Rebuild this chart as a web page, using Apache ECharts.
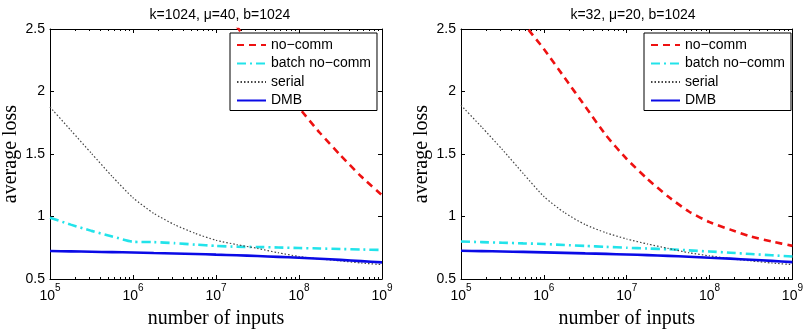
<!DOCTYPE html>
<html>
<head>
<meta charset="utf-8">
<script src="https://cdn.jsdelivr.net/npm/echarts@6/dist/echarts.min.js"></script>
<style>
  html, body { margin: 0; padding: 0; background: #fff; }
  #chart { width: 806px; height: 334px; }
</style>
</head>
<body>
<div id="chart"></div>
<script>
// data (x = number of inputs, quarter-decade samples)
const inputs = [1e5, 1.78e5, 3.16e5, 5.62e5, 1e6, 1.78e6, 3.16e6, 5.62e6, 1e7,
                1.78e7, 3.16e7, 5.62e7, 1e8, 1.78e8, 3.16e8, 5.62e8, 1e9];
const seriesNames = ['no\u2212comm', 'batch no\u2212comm', 'serial', 'DMB'];
const panelTitles = ['k=1024, \u03bc=40, b=1024', 'k=32, \u03bc=20, b=1024'];

// left panel: k=1024, mu=40
const noCommA = [null, null, null, null, null, null, null, 3.0, 2.74,
                 2.52, 2.30, 2.08, 1.87, 1.67, 1.49, 1.32, 1.17];
const batchA  = [0.99, 0.935, 0.885, 0.84, 0.798, 0.795, 0.787, 0.775, 0.765,
                 0.758, 0.756, 0.752, 0.748, 0.744, 0.74, 0.736, 0.732];
const serialA = [1.876, 1.69, 1.505, 1.32, 1.15, 1.025, 0.935, 0.865, 0.81,
                 0.775, 0.745, 0.71, 0.68, 0.66, 0.645, 0.628, 0.615];
const dmbA    = [0.724, 0.721, 0.718, 0.715, 0.712, 0.708, 0.704, 0.70, 0.695,
                 0.69, 0.684, 0.677, 0.67, 0.662, 0.653, 0.643, 0.633];

// right panel: k=32, mu=20
const noCommB = [null, 3.05, 2.80, 2.55, 2.34, 2.11, 1.88, 1.65, 1.46,
                 1.30, 1.16, 1.04, 0.955, 0.895, 0.84, 0.80, 0.765];
const batchB  = [0.80, 0.795, 0.79, 0.785, 0.78, 0.772, 0.765, 0.757, 0.75,
                 0.744, 0.738, 0.729, 0.72, 0.71, 0.70, 0.69, 0.68];
const serialB = [1.89, 1.715, 1.535, 1.345, 1.16, 1.03, 0.935, 0.87, 0.82,
                 0.78, 0.745, 0.71, 0.685, 0.662, 0.645, 0.628, 0.615];
const dmbB    = [0.726, 0.723, 0.72, 0.717, 0.713, 0.709, 0.705, 0.701, 0.696,
                 0.691, 0.685, 0.678, 0.67, 0.663, 0.654, 0.645, 0.635];

const xExponents = [5, 6, 7, 8, 9];

const panels = [
  { title: panelTitles[0], left: 48, legendLeft: 230, values: [noCommA, batchA, serialA, dmbA] },
  { title: panelTitles[1], left: 461, legendLeft: 644, values: [noCommB, batchB, serialB, dmbB] }
];

const SANS = 'Liberation Sans';
const SERIF = 'Liberation Serif';

// minor ticks of the log axis: log10(k * 10^d), k = 2..9
const minorTicks = [];
xExponents.slice(0, -1).forEach(d => {
  for (let k = 2; k <= 9; k++) minorTicks.push(d + Math.log10(k));
});

const lineStyles = [
  { color: '#ee1111', width: 2.6, type: [7, 5] },
  { color: '#22e3ea', width: 2.6, type: [9, 4, 2, 4] },
  { color: '#444444', width: 1.2, type: [1.5, 2] },
  { color: '#0a0ae6', width: 2.6, type: 'solid' }
];

const chart = echarts.init(document.getElementById('chart'), null, { renderer: 'canvas' });

const blackLine = { show: true, lineStyle: { color: '#000', width: 1 } };
const grids = [], xAxes = [], yAxes = [], series = [], titles = [], legends = [];

panels.forEach((p, g) => {
  grids.push({ left: p.left, top: 29, width: 334, height: 257, show: false });
  titles.push({
    text: p.title, left: p.left + 167, top: 3, textAlign: 'center',
    textStyle: { fontFamily: SANS, fontSize: 14, fontWeight: 'normal', color: '#000' }
  });

  const baseX = { gridIndex: g, type: 'value', min: 5, max: 9, interval: 1, splitLine: { show: false } };
  xAxes.push(Object.assign({}, baseX, {
    position: 'bottom', axisLine: blackLine,
    axisTick: { inside: true, length: 4, lineStyle: { color: '#000' } },
    name: 'number of inputs', nameLocation: 'middle', nameGap: 30,
    nameTextStyle: { fontFamily: SERIF, fontSize: 20, color: '#000' },
    axisLabel: {
      margin: 4, color: '#000', showMinLabel: true, showMaxLabel: true,
      formatter: v => '{b|10}{s|' + v + '}',
      rich: {
        b: { fontFamily: SANS, fontSize: 14, color: '#000', verticalAlign: 'bottom', lineHeight: 20 },
        s: { fontFamily: SANS, fontSize: 10, color: '#000', verticalAlign: 'top', lineHeight: 20 }
      }
    }
  }));
  xAxes.push(Object.assign({}, baseX, {
    position: 'top', axisLine: blackLine,
    axisTick: { inside: true, length: 4, lineStyle: { color: '#000' } },
    axisLabel: { show: false }
  }));
  ['bottom', 'top'].forEach(pos => {
    xAxes.push(Object.assign({}, baseX, {
      position: pos, axisLine: { show: false },
      axisTick: { inside: true, length: 2, customValues: minorTicks, lineStyle: { color: '#000' } },
      axisLabel: { show: false }
    }));
  });

  const baseY = { gridIndex: g, type: 'value', min: 0.5, max: 2.5, interval: 0.5, splitLine: { show: false } };
  yAxes.push(Object.assign({}, baseY, {
    position: 'left', axisLine: blackLine,
    axisTick: { inside: true, length: 4, lineStyle: { color: '#000' } },
    axisLabel: { margin: 5, color: '#000', fontFamily: SANS, fontSize: 14, formatter: v => String(v) },
    name: 'average loss', nameLocation: 'middle', nameGap: 29,
    nameTextStyle: { fontFamily: SERIF, fontSize: 20, color: '#000' }
  }));
  yAxes.push(Object.assign({}, baseY, {
    position: 'right', axisLine: blackLine,
    axisTick: { inside: true, length: 4, lineStyle: { color: '#000' } },
    axisLabel: { show: false }
  }));

  seriesNames.forEach((name, i) => {
    series.push({
      name, type: 'line', xAxisIndex: g * 4, yAxisIndex: g * 2,
      data: inputs.map((n, j) => [Math.log10(n), p.values[i][j]]),
      showSymbol: false, symbol: 'none', smooth: 0.2, clip: true,
      lineStyle: lineStyles[i], itemStyle: { color: lineStyles[i].color },
      z: 2 + i
    });
  });

  legends.push({
    data: seriesNames, left: p.legendLeft, top: 33, orient: 'vertical',
    backgroundColor: '#fff', borderColor: '#000', borderWidth: 1, borderRadius: 0,
    padding: [5, 6, 3, 6], itemWidth: 29, itemHeight: 14, itemGap: 4.5, itemTextGap: 3,
    selectedMode: false,
    itemStyle: { opacity: 0 },
    textStyle: { fontFamily: SANS, fontSize: 14, color: '#000' }
  });
});

chart.setOption({
  backgroundColor: '#fff',
  animation: false,
  title: titles,
  grid: grids,
  xAxis: xAxes,
  yAxis: yAxes,
  legend: legends,
  series: series
});
</script>
</body>
</html>
